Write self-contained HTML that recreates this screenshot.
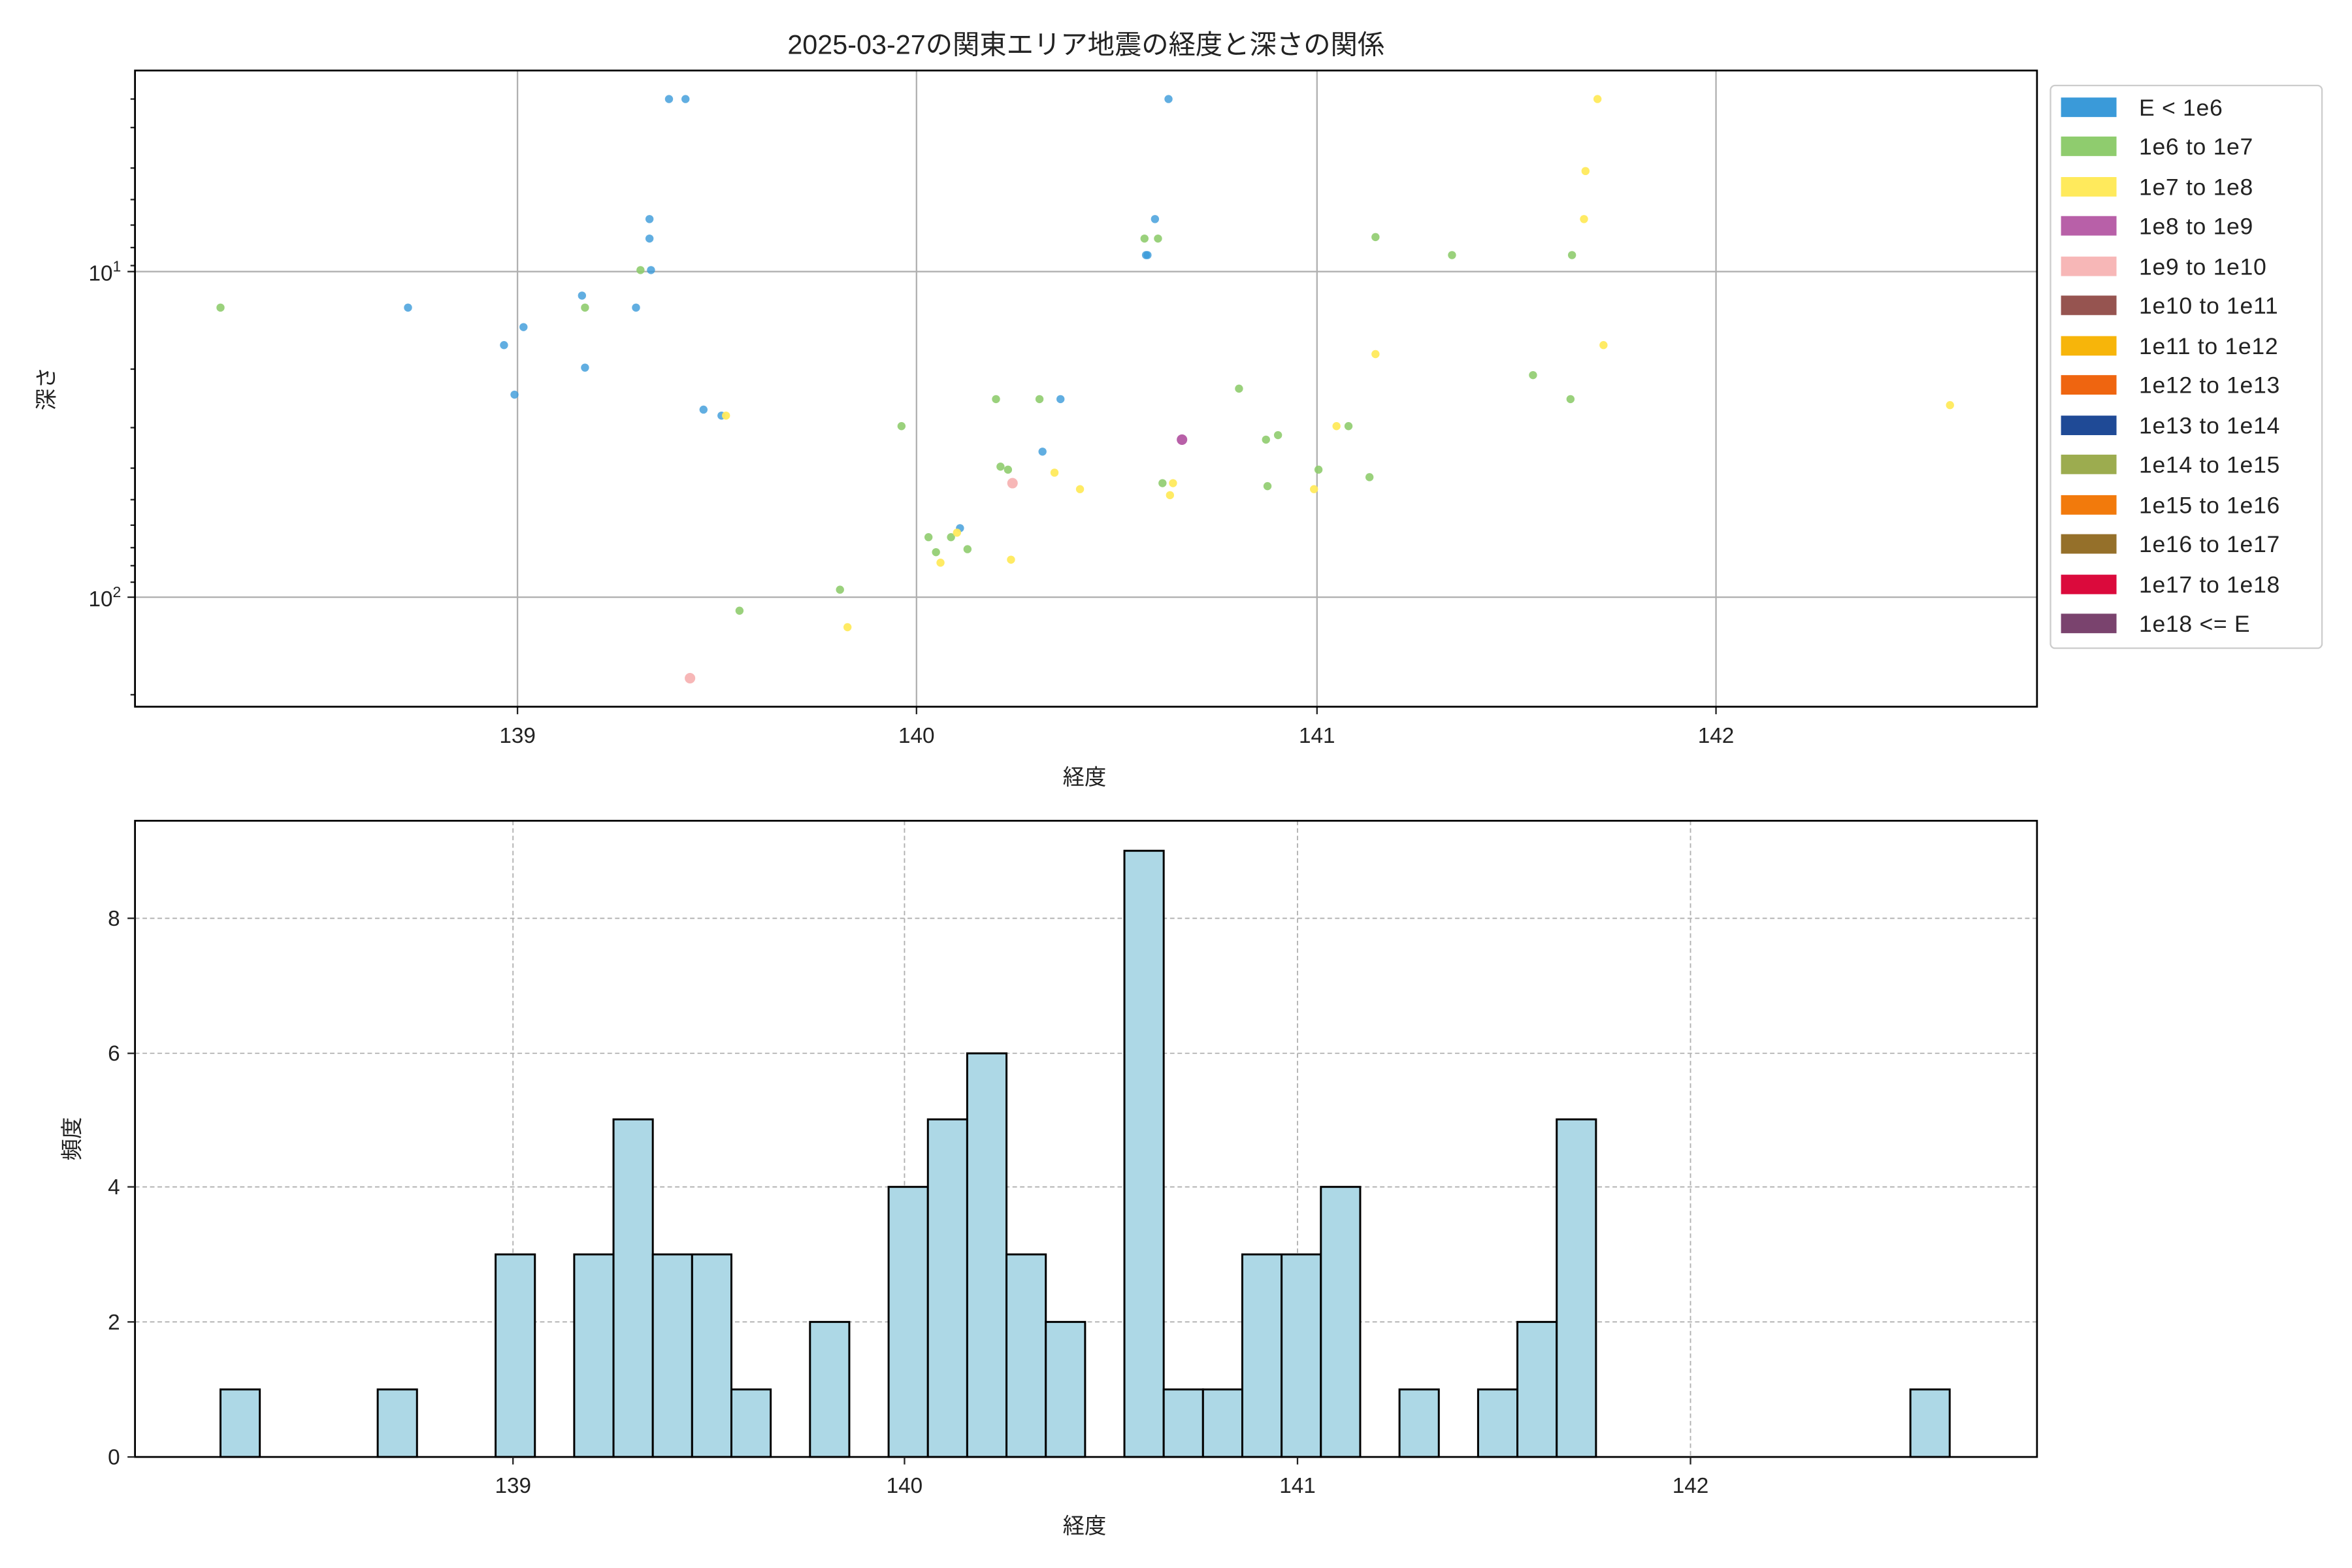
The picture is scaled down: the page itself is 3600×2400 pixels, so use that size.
<!DOCTYPE html>
<html><head><meta charset="utf-8"><style>
html,body{margin:0;padding:0;background:#fff}
svg{display:block}
text{font-family:"Liberation Sans","Noto Sans CJK JP",sans-serif;fill:#222}
</style></head><body>
<svg width="3600" height="2400" viewBox="0 0 1568 1045" preserveAspectRatio="none" xmlns="http://www.w3.org/2000/svg">
<rect width="1568" height="1045" fill="#fff"/>
<text x="724" y="36" font-size="18" text-anchor="middle">2025-03-27の関東エリア地震の経度と深さの関係</text>
<g stroke="#b0b0b0" stroke-width="1">
<line x1="345" y1="47" x2="345" y2="471"/><line x1="611" y1="47" x2="611" y2="471"/>
<line x1="878" y1="47" x2="878" y2="471"/><line x1="1144" y1="47" x2="1144" y2="471"/>
<line x1="90" y1="181" x2="1358" y2="181"/><line x1="90" y1="398" x2="1358" y2="398"/>
</g>
<g stroke="#222" stroke-width="1">
<line x1="345" y1="471" x2="345" y2="476"/><line x1="611" y1="471" x2="611" y2="476"/>
<line x1="878" y1="471" x2="878" y2="476"/><line x1="1144" y1="471" x2="1144" y2="476"/>
<line x1="85" y1="181" x2="90" y2="181"/><line x1="85" y1="398" x2="90" y2="398"/>
<line x1="87" y1="85" x2="90" y2="85"/><line x1="87" y1="112" x2="90" y2="112"/><line x1="87" y1="133" x2="90" y2="133"/>
<line x1="87" y1="150" x2="90" y2="150"/><line x1="87" y1="165" x2="90" y2="165"/><line x1="87" y1="177" x2="90" y2="177"/>
<line x1="87" y1="66" x2="90" y2="66"/>
<line x1="87" y1="246" x2="90" y2="246"/><line x1="87" y1="285" x2="90" y2="285"/><line x1="87" y1="312" x2="90" y2="312"/>
<line x1="87" y1="333" x2="90" y2="333"/><line x1="87" y1="350" x2="90" y2="350"/><line x1="87" y1="365" x2="90" y2="365"/>
<line x1="87" y1="377" x2="90" y2="377"/><line x1="87" y1="388" x2="90" y2="388"/><line x1="87" y1="463" x2="90" y2="463"/>
</g>
<g font-size="14.5" text-anchor="middle">
<text x="345" y="495">139</text><text x="611" y="495">140</text><text x="878" y="495">141</text><text x="1144" y="495">142</text>
<text x="723" y="523">経度</text>
</g>
<text x="59" y="187" font-size="14.5">10<tspan font-size="10" dy="-6">1</tspan></text>
<text x="59" y="404" font-size="14.5">10<tspan font-size="10" dy="-6">2</tspan></text>
<text transform="translate(36,259) rotate(-90)" font-size="14.5" text-anchor="middle">深さ</text>
<g fill="#3a9ad9" fill-opacity="0.8">
<circle cx="446" cy="66" r="2.7"/><circle cx="457" cy="66" r="2.7"/><circle cx="779" cy="66" r="2.7"/><circle cx="433" cy="146" r="2.7"/><circle cx="433" cy="159" r="2.7"/><circle cx="434" cy="180" r="2.7"/><circle cx="388" cy="197" r="2.7"/><circle cx="424" cy="205" r="2.7"/><circle cx="272" cy="205" r="2.7"/><circle cx="349" cy="218" r="2.7"/><circle cx="336" cy="230" r="2.7"/><circle cx="390" cy="245" r="2.7"/><circle cx="343" cy="263" r="2.7"/><circle cx="469" cy="273" r="2.7"/><circle cx="481" cy="277" r="2.7"/><circle cx="695" cy="301" r="2.7"/><circle cx="707" cy="266" r="2.7"/><circle cx="640" cy="352" r="2.7"/><circle cx="764" cy="170" r="2.7"/><circle cx="770" cy="146" r="2.7"/><circle cx="765" cy="170" r="2.7"/>
</g>
<g fill="#8fcc6e" fill-opacity="0.9">
<circle cx="147" cy="205" r="2.7"/><circle cx="390" cy="205" r="2.7"/><circle cx="427" cy="180" r="2.7"/><circle cx="763" cy="159" r="2.7"/><circle cx="772" cy="159" r="2.7"/><circle cx="917" cy="158" r="2.7"/><circle cx="968" cy="170" r="2.7"/><circle cx="1048" cy="170" r="2.7"/><circle cx="601" cy="284" r="2.7"/><circle cx="664" cy="266" r="2.7"/><circle cx="693" cy="266" r="2.7"/><circle cx="826" cy="259" r="2.7"/><circle cx="1022" cy="250" r="2.7"/><circle cx="1047" cy="266" r="2.7"/><circle cx="667" cy="311" r="2.7"/><circle cx="672" cy="313" r="2.7"/><circle cx="775" cy="322" r="2.7"/><circle cx="844" cy="293" r="2.7"/><circle cx="852" cy="290" r="2.7"/><circle cx="899" cy="284" r="2.7"/><circle cx="879" cy="313" r="2.7"/><circle cx="845" cy="324" r="2.7"/><circle cx="913" cy="318" r="2.7"/><circle cx="619" cy="358" r="2.7"/><circle cx="624" cy="368" r="2.7"/><circle cx="634" cy="358" r="2.7"/><circle cx="645" cy="366" r="2.7"/><circle cx="560" cy="393" r="2.7"/><circle cx="493" cy="407" r="2.7"/>
</g>
<g fill="#ffea5c" fill-opacity="0.95">
<circle cx="1065" cy="66" r="2.7"/><circle cx="1057" cy="114" r="2.7"/><circle cx="1056" cy="146" r="2.7"/><circle cx="1069" cy="230" r="2.7"/><circle cx="917" cy="236" r="2.7"/><circle cx="1300" cy="270" r="2.7"/><circle cx="484" cy="277" r="2.7"/><circle cx="891" cy="284" r="2.7"/><circle cx="703" cy="315" r="2.7"/><circle cx="720" cy="326" r="2.7"/><circle cx="782" cy="322" r="2.7"/><circle cx="780" cy="330" r="2.7"/><circle cx="876" cy="326" r="2.7"/><circle cx="674" cy="373" r="2.7"/><circle cx="627" cy="375" r="2.7"/><circle cx="638" cy="355" r="2.7"/><circle cx="565" cy="418" r="2.7"/>
</g>
<g fill="#f7b7b7"><circle cx="675" cy="322" r="3.5"/><circle cx="460" cy="452" r="3.5"/></g>
<circle cx="788" cy="293" r="3.5" fill="#b860a8"/>
<rect x="90" y="47" width="1268" height="424" fill="none" stroke="#000" stroke-width="1.2"/>
<rect x="1367" y="57" width="181" height="375" fill="#fff" stroke="#ccc" rx="3"/>
<g font-size="15.5" letter-spacing="0.3">
<rect x="1374" y="65" width="37" height="13" fill="#3a9ad9"/><text x="1426" y="77">E &lt; 1e6</text>
<rect x="1374" y="91" width="37" height="13" fill="#8fcc6e"/><text x="1426" y="103">1e6 to 1e7</text>
<rect x="1374" y="118" width="37" height="13" fill="#ffea5c"/><text x="1426" y="130">1e7 to 1e8</text>
<rect x="1374" y="144" width="37" height="13" fill="#b860a8"/><text x="1426" y="156">1e8 to 1e9</text>
<rect x="1374" y="171" width="37" height="13" fill="#f7b7b7"/><text x="1426" y="183">1e9 to 1e10</text>
<rect x="1374" y="197" width="37" height="13" fill="#965450"/><text x="1426" y="209">1e10 to 1e11</text>
<rect x="1374" y="224" width="37" height="13" fill="#f7b50a"/><text x="1426" y="236">1e11 to 1e12</text>
<rect x="1374" y="250" width="37" height="13" fill="#ef6510"/><text x="1426" y="262">1e12 to 1e13</text>
<rect x="1374" y="277" width="37" height="13" fill="#1f4a96"/><text x="1426" y="289">1e13 to 1e14</text>
<rect x="1374" y="303" width="37" height="13" fill="#9cac4f"/><text x="1426" y="315">1e14 to 1e15</text>
<rect x="1374" y="330" width="37" height="13" fill="#f27a0c"/><text x="1426" y="342">1e15 to 1e16</text>
<rect x="1374" y="356" width="37" height="13" fill="#95702a"/><text x="1426" y="368">1e16 to 1e17</text>
<rect x="1374" y="383" width="37" height="13" fill="#db0a3c"/><text x="1426" y="395">1e17 to 1e18</text>
<rect x="1374" y="409" width="37" height="13" fill="#7a436e"/><text x="1426" y="421">1e18 &lt;= E</text>
</g>
<g stroke="#b0b0b0" stroke-width="0.8" stroke-dasharray="3,2">
<line x1="342" y1="547" x2="342" y2="971"/><line x1="603" y1="547" x2="603" y2="971"/>
<line x1="865" y1="547" x2="865" y2="971"/><line x1="1127" y1="547" x2="1127" y2="971"/>
<line x1="90" y1="881" x2="1358" y2="881"/><line x1="90" y1="791" x2="1358" y2="791"/>
<line x1="90" y1="702" x2="1358" y2="702"/><line x1="90" y1="612" x2="1358" y2="612"/>
</g>
<g fill="#add8e6" stroke="#000" stroke-width="1.3">
<rect x="147" y="926" width="26.2" height="45"/>
<rect x="251.8" y="926" width="26.2" height="45"/>
<rect x="330.4" y="836" width="26.2" height="135"/>
<rect x="382.8" y="836" width="26.2" height="135"/>
<rect x="409" y="746" width="26.2" height="225"/>
<rect x="435.2" y="836" width="26.2" height="135"/>
<rect x="461.4" y="836" width="26.2" height="135"/>
<rect x="487.6" y="926" width="26.2" height="45"/>
<rect x="540" y="881" width="26.2" height="90"/>
<rect x="592.4" y="791" width="26.2" height="180"/>
<rect x="618.6" y="746" width="26.2" height="225"/>
<rect x="644.8" y="702" width="26.2" height="269"/>
<rect x="671" y="836" width="26.2" height="135"/>
<rect x="697.2" y="881" width="26.2" height="90"/>
<rect x="749.6" y="567" width="26.2" height="404"/>
<rect x="775.8" y="926" width="26.2" height="45"/>
<rect x="802" y="926" width="26.2" height="45"/>
<rect x="828.2" y="836" width="26.2" height="135"/>
<rect x="854.4" y="836" width="26.2" height="135"/>
<rect x="880.6" y="791" width="26.2" height="180"/>
<rect x="933" y="926" width="26.2" height="45"/>
<rect x="985.4" y="926" width="26.2" height="45"/>
<rect x="1011.6" y="881" width="26.2" height="90"/>
<rect x="1037.8" y="746" width="26.2" height="225"/>
<rect x="1273.6" y="926" width="26.2" height="45"/>
</g>
<rect x="90" y="547" width="1268" height="424" fill="none" stroke="#000" stroke-width="1.2"/>
<g stroke="#222" stroke-width="1">
<line x1="342" y1="971" x2="342" y2="976"/><line x1="603" y1="971" x2="603" y2="976"/>
<line x1="865" y1="971" x2="865" y2="976"/><line x1="1127" y1="971" x2="1127" y2="976"/>
<line x1="85" y1="971" x2="90" y2="971"/><line x1="85" y1="881" x2="90" y2="881"/><line x1="85" y1="791" x2="90" y2="791"/><line x1="85" y1="702" x2="90" y2="702"/><line x1="85" y1="612" x2="90" y2="612"/>
</g>
<g font-size="14.5" text-anchor="middle">
<text x="342" y="995">139</text><text x="603" y="995">140</text><text x="865" y="995">141</text><text x="1127" y="995">142</text>
<text x="723" y="1022">経度</text>
</g>
<g font-size="14.5" text-anchor="end">
<text x="80" y="976">0</text><text x="80" y="886">2</text><text x="80" y="796">4</text><text x="80" y="707">6</text><text x="80" y="617">8</text>
</g>
<text transform="translate(53,759) rotate(-90)" font-size="14.5" text-anchor="middle">頻度</text>
</svg>
</body></html>
